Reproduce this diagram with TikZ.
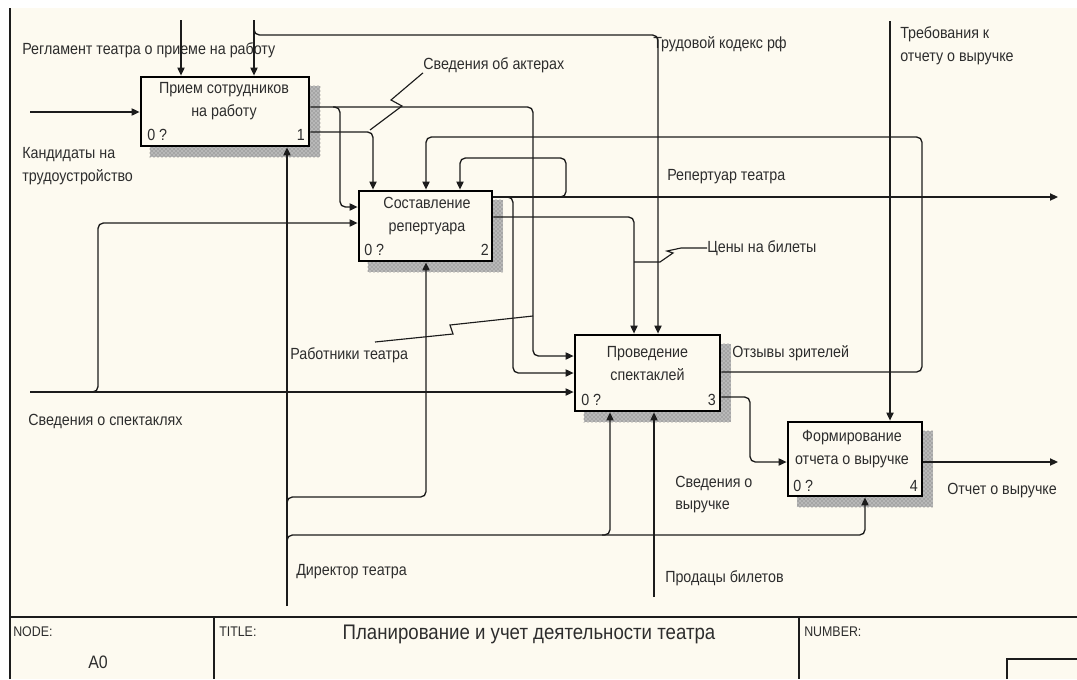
\documentclass[tikz,border=0pt]{standalone}
\usepackage{fontspec}
\setmainfont{Liberation Sans}[FakeStretch=0.885]
\usetikzlibrary{arrows.meta,patterns,calc}

\definecolor{paper}{RGB}{253,250,240}
\definecolor{ink}{RGB}{28,28,28}
\definecolor{txt}{RGB}{45,45,45}

\pgfdeclarelayer{paperlayer}
\pgfdeclarelayer{shadowlayer}
\pgfsetlayers{paperlayer,shadowlayer,main}

\tikzset{
  flow/.style={draw=ink, line width=1pt, rounded corners=4pt},
  arr/.style={flow, -{Triangle[length=6pt,width=5.4pt]}},
  leader/.style={draw=ink, line width=0.85pt},
  fn/.style={draw=black, line width=2.1pt, fill=paper, inner sep=0pt},
  fntext/.style={inner sep=0pt, align=center, text=txt,
    font=\fontsize{12.1}{17.2}\selectfont},
  lbl/.style={inner sep=0pt, anchor=west, align=left, text=txt,
    font=\fontsize{12.1}{17.2}\selectfont},
  tag/.style={inner sep=0pt, text=txt, font=\fontsize{12.1}{13}\selectfont},
  frame/.style={draw=ink, line width=1.6pt},
  small/.style={inner sep=0pt, anchor=west, text=txt, font=\fontsize{10.5}{12}\selectfont},
  shade/.style={fill=black!28, postaction={pattern=crosshatch dots, pattern color=black!60}},
}

\begin{document}
\begin{tikzpicture}[x=0.75pt,y=-0.75pt]
\useasboundingbox (0,0) rectangle (1077,679);

\begin{pgfonlayer}{paperlayer}
  \fill[white] (0,0) rectangle (1077,679);
  \fill[paper] (10,8) rectangle (1077,679);
\end{pgfonlayer}

% sheet border and title block
\draw[ink, line width=2.2pt] (10,8) -- (10,679);
\draw[frame] (10,617) -- (1077,617);
\draw[frame] (214,617) -- (214,679);
\draw[frame] (799,617) -- (799,679);
\draw[ink, line width=1.2pt] (1007,679) -- (1007,659) -- (1077,659);
\node[small] (tNode) at (13,632) {NODE:};
\node[tag, font=\fontsize{13.5}{15}\selectfont] (tA0) at (98,662) {A0};
\node[small] (tTitleKey) at (219,632) {TITLE:};
\node[inner sep=0pt, text=txt, font=\fontsize{15.8}{18}\selectfont] (tTitle) at (529,634) {Планирование и учет деятельности театра};
\node[small] (tNum) at (804,632) {NUMBER:};

% activity boxes
\node[fn, minimum width=126pt, minimum height=51.75pt] (b1) at (225,111.5) {};
\node[fn, minimum width=99.75pt, minimum height=52.5pt] (b2) at (425.5,226) {};
\node[fn, minimum width=108.75pt, minimum height=57pt] (b3) at (647.5,373) {};
\node[fn, minimum width=100.5pt, minimum height=55.5pt] (b4) at (855,459) {};

\begin{pgfonlayer}{shadowlayer}
  \foreach \b in {b1,b2,b3,b4}
    \fill[shade] ($(\b.south west)+(10,10)$) rectangle ($(\b.north east)+(10,10)$);
\end{pgfonlayer}

\node[fntext] (b1t) at (224,101.5) {Прием сотрудников\\на работу};
\node[fntext] (b2t) at (427,216.5) {Составление\\репертуара};
\node[fntext] (b3t) at (647.5,363.5) {Проведение\\спектаклей};
\node[fntext] (b4t) at (852,449.5) {Формирование\\отчета о выручке};

\node[tag, anchor=west] (b1q) at (147,135) {0 ?};
\node[tag, anchor=east] (b1n) at (305,135) {1};
\node[tag, anchor=west] (b2q) at (364,250) {0 ?};
\node[tag, anchor=east] (b2n) at (489,250) {2};
\node[tag, anchor=west] (b3q) at (581,400) {0 ?};
\node[tag, anchor=east] (b3n) at (716,400) {3};
\node[tag, anchor=west] (b4q) at (793,486) {0 ?};
\node[tag, anchor=east] (b4n) at (918,486) {4};

% arrow labels
\node[lbl] (lReg) at (22,50) {Регламент театра о приеме на работу};
\node[lbl] (lKand) at (22,166.5) {Кандидаты на\\трудоустройство};
\node[lbl] (lTk) at (653,44) {Трудовой кодекс рф};
\node[lbl] (lTreb) at (900,46) {Требования к\\отчету о выручке};
\node[lbl] (lAkt) at (423,65) {Сведения об актерах};
\node[lbl] (lRep) at (667,177) {Репертуар театра};
\node[lbl] (lCen) at (707,248) {Цены на билеты};
\node[lbl] (lRab) at (290,355) {Работники театра};
\node[lbl] (lOtz) at (732,353) {Отзывы зрителей};
\node[lbl] (lSvs) at (28,421) {Сведения о спектаклях};
\node[lbl] (lSvv) at (675,494.5) {Сведения о\\выручке};
\node[lbl] (lOtch) at (947,491) {Отчет о выручке};
\node[lbl] (lDir) at (296,572) {Директор театра};
\node[lbl] (lProd) at (665,578) {Продацы билетов};

% controls from the top
\coordinate (regTop) at (181,20);
\draw[arr] (regTop) -- (regTop |- b1.north);
\coordinate (tkTop) at (254,20);
\draw[arr] (tkTop) -- (tkTop |- b1.north);
\coordinate (tkBr) at (254,35);
\coordinate (tkR) at (658,35);
\draw[arr] ($(tkBr)+(0,-7)$) -- (tkBr) -- (tkR) -- (tkR |- b3.north);
\coordinate (trTop) at (890,21);
\draw[arr] (trTop) -- (trTop |- b4.north);

% inputs from the left
\coordinate (kIn) at (30,112);
\draw[arr] (kIn) -- (kIn -| b1.west);
\coordinate (sIn) at (30,392);
\draw[arr] (sIn) -- (sIn -| b3.west);
\coordinate (sBr) at (98,392);
\coordinate (sUp) at (98,223);
\draw[arr] ($(sBr)+(-8,0)$) -- (sBr) -- (sUp) -- (sUp -| b2.west);

% outputs of box 1
\coordinate (o1a) at (533,107);
\coordinate (i3a) at (533,356);
\draw[arr] (b1.east |- o1a) -- (o1a) -- (i3a) -- (i3a -| b3.west);
\coordinate (br1) at (340,107);
\coordinate (i2a) at (340,207);
\draw[arr] ($(br1)+(-7,0)$) -- (br1) -- (i2a) -- (i2a -| b2.west);
\coordinate (o1b) at (373,132);
\draw[arr] (b1.east |- o1b) -- (o1b) -- (o1b |- b2.north);
\draw[leader] (370,130) -- (402,106) -- (391,100) -- (lAkt.south west);

% outputs of box 2
\coordinate (rEnd) at (1058,197);
\draw[arr] (b2.east |- rEnd) -- (rEnd);
\coordinate (rBr) at (566,197);
\coordinate (rUp) at (566,158);
\coordinate (rL) at (460,158);
\draw[arr] ($(rBr)+(-8,0)$) -- (rBr) -- (rUp) -- (rL) -- (rL |- b2.north);
\coordinate (rBr2) at (513,197);
\coordinate (i3b) at (513,373);
\draw[arr] ($(rBr2)+(-8,0)$) -- (rBr2) -- (i3b) -- (i3b -| b3.west);
\coordinate (cR) at (634,217);
\draw[arr] (b2.east |- cR) -- (cR) -- (cR |- b3.north);
\draw[leader] (634,262) -- (660,262) -- (673,253) -- (667,251) -- (681,248) -- (lCen.west);

% leader of the staff label
\draw[leader] (375,342) -- (453,334) -- (450,325) -- (533,316);

% outputs of box 3
\coordinate (oR) at (922,372);
\coordinate (oUp) at (922,137);
\coordinate (oL) at (426,137);
\draw[arr] (b3.east |- oR) -- (oR) -- (oUp) -- (oL) -- (oL |- b2.north);
\coordinate (vR) at (750,397);
\coordinate (vD) at (750,462);
\draw[arr] (b3.east |- vR) -- (vR) -- (vD) -- (vD -| b4.west);

% output of box 4
\coordinate (otEnd) at (1058,462);
\draw[arr] (b4.east |- otEnd) -- (otEnd);

% mechanisms from the bottom
\coordinate (dBot) at (287,606);
\draw[arr] (dBot) -- (dBot |- b1.south);
\coordinate (dB1) at (287,497);
\coordinate (dB1r) at (426,497);
\draw[arr] ($(dB1)+(0,7)$) -- (dB1) -- (dB1r) -- (dB1r |- b2.south);
\coordinate (dB2) at (287,535);
\coordinate (dB2r) at (865,535);
\draw[arr] ($(dB2)+(0,7)$) -- (dB2) -- (dB2r) -- (dB2r |- b4.south);
\coordinate (dB3) at (610,535);
\draw[arr] ($(dB3)+(-8,0)$) -- (dB3) -- (dB3 |- b3.south);
\coordinate (pBot) at (654,597);
\draw[arr] (pBot) -- (pBot |- b3.south);

\end{tikzpicture}
\end{document}
